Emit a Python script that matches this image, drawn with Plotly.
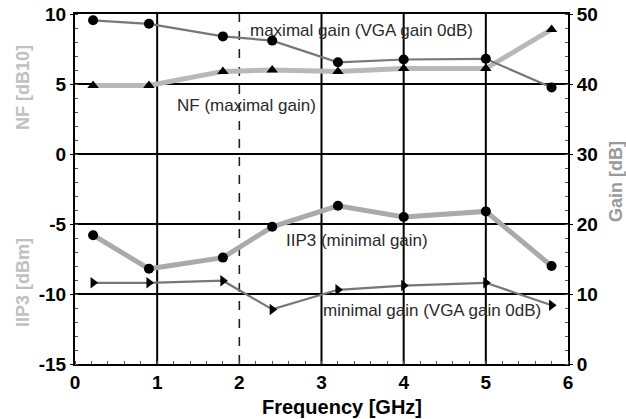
import plotly.graph_objects as go

freq = [0.22, 0.9, 1.8, 2.4, 3.2, 4.0, 5.0, 5.8]
nf_max_gain = [4.9, 4.9, 5.9, 6.0, 5.9, 6.1, 6.1, 8.9]          # left axis (dB)
gain_max = [49.1, 48.6, 46.8, 46.2, 43.1, 43.5, 43.6, 39.5]      # right axis (dB)
iip3_min_gain = [-5.8, -8.2, -7.4, -5.2, -3.7, -4.5, -4.1, -8.0] # left axis (dBm)
gain_min = [11.6, 11.6, 11.9, 7.8, 10.6, 11.2, 11.6, 8.4]        # right axis (dB)

x_ticks = [0, 1, 2, 3, 4, 5, 6]
y_left_ticks = [-15, -10, -5, 0, 5, 10]
y_left_labels = ["-15", "-10", "-5", "0", "5", "10"]
y_right_ticks = [0, 10, 20, 30, 40, 50]
solid_grid_x = [1, 3, 4, 5]
dashed_grid_x = [2]
grid_y = [-10, -5, 0, 5]

FONT = "Liberation Sans, Arial, sans-serif"

fig = go.Figure()

fig.add_trace(go.Scatter(
    x=freq, y=nf_max_gain, mode="lines+markers",
    line=dict(color="#b8b8b8", width=5),
    marker=dict(symbol="triangle-up", size=10, color="black"),
    yaxis="y", showlegend=False))
fig.add_trace(go.Scatter(
    x=freq, y=iip3_min_gain, mode="lines+markers",
    line=dict(color="#aaaaaa", width=5),
    marker=dict(symbol="circle", size=10, color="black"),
    yaxis="y", showlegend=False))
fig.add_trace(go.Scatter(
    x=freq, y=gain_max, mode="lines+markers",
    line=dict(color="#777777", width=2.2),
    marker=dict(symbol="circle", size=10, color="black"),
    yaxis="y2", showlegend=False))
fig.add_trace(go.Scatter(
    x=freq, y=gain_min, mode="lines+markers",
    line=dict(color="#777777", width=2.2),
    marker=dict(symbol="triangle-right", size=10, color="black"),
    yaxis="y2", showlegend=False))

shapes = []
for gx in solid_grid_x:
    shapes.append(dict(type="line", xref="x", yref="paper", x0=gx, x1=gx, y0=0, y1=1,
                       line=dict(color="black", width=2), layer="below"))
for gx in dashed_grid_x:
    shapes.append(dict(type="line", xref="x", yref="paper", x0=gx, x1=gx, y0=0, y1=1,
                       line=dict(color="#222222", width=1.6, dash="dash"), layer="below"))
for gy in grid_y:
    shapes.append(dict(type="line", xref="paper", yref="y", x0=0, x1=1, y0=gy, y1=gy,
                       line=dict(color="black", width=2), layer="below"))

ann_font = dict(family=FONT, size=17, color="#2a2a2a")
annotations = [
    dict(text="maximal gain (VGA gain 0dB)", x=2.1, y=47.7, xref="x", yref="y2",
         xanchor="left", yanchor="middle", showarrow=False, font=ann_font),
    dict(text="NF (maximal gain)", x=1.22, y=3.45, xref="x", yref="y",
         xanchor="left", yanchor="middle", showarrow=False, font=ann_font),
    dict(text="IIP3 (minimal gain)", x=2.54, y=-6.15, xref="x", yref="y",
         xanchor="left", yanchor="middle", showarrow=False, font=ann_font),
    dict(text="minimal gain (VGA gain 0dB)", x=2.99, y=7.6, xref="x", yref="y2",
         xanchor="left", yanchor="middle", showarrow=False, font=ann_font),
]
side_titles = [
    ("<b>NF [dB10]</b>", 23, 88, "#c0c0c0"),
    ("<b>IIP3 [dBm]</b>", 23, 283, "#c0c0c0"),
    ("<b>Gain [dB]</b>", 616, 182, "#9a9a9a"),
    ("<b>Frequency [GHz]</b>", 342, 407, "black"),
]
pw, ph = 626 - 75 - 58, 419 - 14 - 55
for text, px, py, col in side_titles:
    rot = 0 if text.startswith("<b>Freq") else -90
    annotations.append(dict(
        text=text, x=(px - 75) / pw, y=1 - (py - 14) / ph, xref="paper", yref="paper",
        textangle=rot, showarrow=False, xanchor="center", yanchor="middle",
        font=dict(family=FONT, size=20 if rot == 0 else 18, color=col)))

tick_font = dict(family=FONT, size=19, color="black", weight="bold")

fig.update_layout(
    width=626, height=419,
    margin=dict(l=75, r=58, t=14, b=55),
    paper_bgcolor="white", plot_bgcolor="white",
    shapes=shapes, annotations=annotations,
    xaxis=dict(range=[0, 6], tickvals=x_ticks, showgrid=False, zeroline=False,
               automargin=False,
               showline=True, linecolor="black", linewidth=2, mirror=True,
               ticks="", tickfont=tick_font,
               minor=dict(ticks="inside", ticklen=3, tickcolor="#555", dtick=0.2)),
    yaxis=dict(range=[-15, 10], tickvals=y_left_ticks, ticktext=y_left_labels,
               showgrid=False, zeroline=False, automargin=False,
               showline=True, linecolor="black", linewidth=2,
               ticks="outside", ticklen=3, tickcolor="black", tickfont=tick_font,
               minor=dict(ticks="inside", ticklen=3, tickcolor="#555", dtick=1)),
    yaxis2=dict(range=[0, 50], tickvals=y_right_ticks, overlaying="y", side="right",
                showgrid=False, zeroline=False, automargin=False,
                showline=True, linecolor="black", linewidth=2,
                ticks="outside", ticklen=3, tickcolor="black", tickfont=tick_font,
                minor=dict(ticks="inside", ticklen=3, tickcolor="#555", dtick=2)),
)

fig.write_html("out.html")
